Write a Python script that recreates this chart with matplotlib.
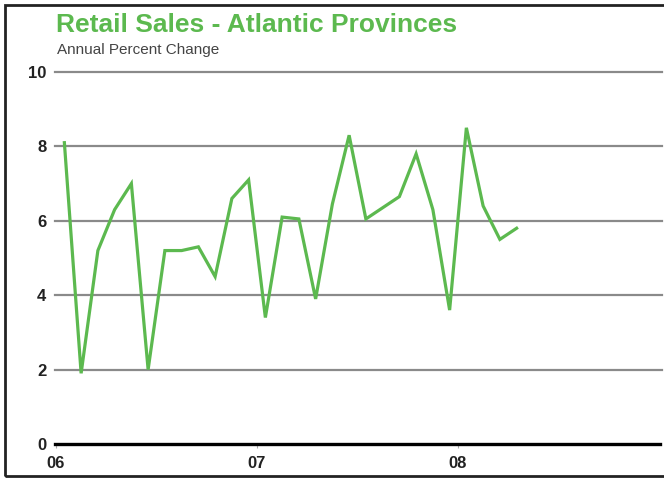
import numpy as np
import matplotlib.pyplot as plt
from matplotlib.patches import Rectangle

# Monthly values, Jan 2006 - Apr 2008 (annual percent change)
years = [2006] * 12 + [2007] * 12 + [2008] * 4
months = list(range(12)) + list(range(12)) + list(range(4))
values = [8.1, 1.9, 5.2, 6.3, 7.0, 2.0, 5.2, 5.2, 5.3, 4.5, 6.6, 7.1,
          3.4, 6.1, 6.05, 3.9, 6.45, 8.3, 6.05, 6.35, 6.65, 7.8, 6.3, 3.6,
          8.5, 6.4, 5.5, 5.8]

x_ticks = [2006, 2007, 2008]
x_labels = ["06", "07", "08"]
y_ticks = [0, 2, 4, 6, 8, 10]

green = "#5cb94f"

x = np.array(years) + (np.array(months) + 0.5) / 12.0

fig = plt.figure(figsize=(6.64, 4.79), dpi=100)
ax = fig.add_axes([56 / 664, 35 / 479, 603 / 664, 372 / 479])

# horizontal grid
for yv in y_ticks[1:]:
    ax.axhline(yv, color="#8a8a8a", lw=1.6, xmin=-0.002, xmax=1.005, clip_on=False, zorder=1)
ax.axhline(0, color="black", lw=2.4, xmin=-0.002, xmax=1.002, clip_on=False, zorder=3)

ax.plot(x, values, color=green, lw=2.3, zorder=4, solid_joinstyle="miter")

ax.set_xlim(2006, 2009)
ax.set_ylim(0, 10)
ax.set_xticks(x_ticks)
ax.set_xticklabels(x_labels)
ax.set_yticks(y_ticks)
for s in ax.spines.values():
    s.set_visible(False)
ax.tick_params(axis="y", length=0, pad=7)
ax.tick_params(axis="x", length=3, color="#aaaaaa", pad=6)
for lab in ax.get_yticklabels() + ax.get_xticklabels():
    lab.set_fontfamily("Liberation Sans")
    lab.set_fontweight("bold")
    lab.set_fontsize(12)
    lab.set_color("#222222")

fig.text(56 / 664, 1 - 25 / 479, "Retail Sales - Atlantic Provinces", color=green,
         fontsize=19, fontweight="bold", family="Liberation Sans", va="center")
fig.text(57 / 664, 1 - 50 / 479, "Annual Percent Change", color="#444444",
         fontsize=11, family="Liberation Sans", va="center")

# frame around the whole picture (open on the right)
fig.patches.append(Rectangle((5 / 664, 3 / 479), 1.0, 471 / 479, transform=fig.transFigure,
                             fill=False, edgecolor="#222222", lw=2))

fig.savefig("out.png", dpi=100)
